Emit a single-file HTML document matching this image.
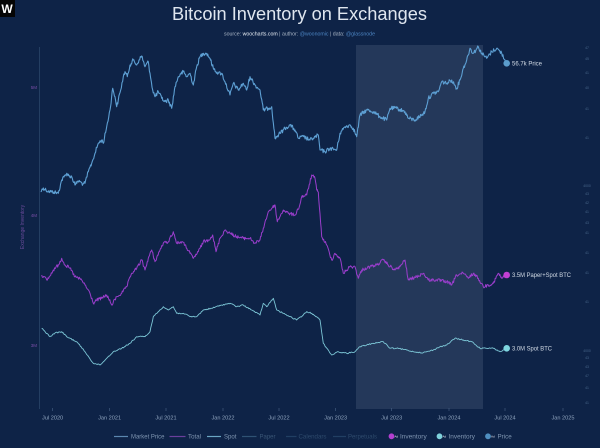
<!DOCTYPE html>
<html><head><meta charset="utf-8"><style>
html,body{margin:0;padding:0;background:#0e2347;}
svg{display:block;font-family:"Liberation Sans",sans-serif;}
</style></head><body>
<svg width="600" height="448" viewBox="0 0 600 448" xmlns="http://www.w3.org/2000/svg">
<rect x="0" y="0" width="600" height="448" fill="#0e2347"/>
<!-- logo -->
<rect x="0" y="0" width="15" height="17" fill="#050505"/>
<text x="7" y="13" font-size="12" fill="#ffffff" text-anchor="middle" font-weight="bold">W</text>
<!-- title -->
<text x="172" y="20" font-size="18.5" fill="#dfe6ef" textLength="255" lengthAdjust="spacingAndGlyphs">Bitcoin Inventory on Exchanges</text>
<text x="224" y="35.5" font-size="5.4" textLength="151" lengthAdjust="spacingAndGlyphs"><tspan fill="#aab6c6">source: </tspan><tspan fill="#e8eef5">woocharts.com</tspan><tspan fill="#aab6c6"> | author: </tspan><tspan fill="#4d86c4">@woonomic</tspan><tspan fill="#aab6c6"> | data: </tspan><tspan fill="#4d86c4">@glassnode</tspan></text>
<!-- shaded region -->
<rect x="356" y="45" width="127" height="364" fill="#24385a"/>
<!-- left axis -->
<line x1="39.4" y1="47" x2="39.4" y2="409" stroke="#2b4569" stroke-width="0.8"/>
<g font-size="4.5" fill="#7a4ea8" text-anchor="end">
<text x="37" y="89">5M</text>
<text x="37" y="217">4M</text>
<text x="37" y="347">3M</text>
</g>
<text transform="translate(24,227) rotate(-90)" font-size="5" fill="#6a4a9a" text-anchor="middle">Exchange Inventory</text>
<!-- right axis ticks -->
<g font-size="3.4" fill="#48668a" text-anchor="middle">
<text x="587" y="49">47</text><text x="587" y="60">45</text><text x="587" y="74">41</text><text x="587" y="89">40</text><text x="587" y="110">41</text><text x="587" y="139">41</text><text x="587" y="187">4000</text><text x="587" y="195">43</text><text x="587" y="204">42</text><text x="587" y="213">41</text><text x="587" y="224">43</text><text x="587" y="234">41</text><text x="587" y="254">41</text><text x="587" y="274">41</text><text x="587" y="303">41</text><text x="587" y="352">4000</text><text x="587" y="359">43</text><text x="587" y="368">43</text><text x="587" y="377">47</text><text x="587" y="389">41</text><text x="587" y="404">41</text>
</g>
<!-- x axis ticks & labels -->
<g stroke="#4a6588" stroke-width="0.6">
<line x1="52.6" y1="408" x2="52.6" y2="411"/><line x1="109.6" y1="408" x2="109.6" y2="411"/><line x1="166" y1="408" x2="166" y2="411"/><line x1="223" y1="408" x2="223" y2="411"/><line x1="279" y1="408" x2="279" y2="411"/><line x1="335.6" y1="408" x2="335.6" y2="411"/><line x1="391.7" y1="408" x2="391.7" y2="411"/><line x1="449" y1="408" x2="449" y2="411"/><line x1="505" y1="408" x2="505" y2="411"/><line x1="563" y1="408" x2="563" y2="411"/>
</g>
<g font-size="5.6" fill="#8ea3bd" text-anchor="middle">
<text x="52.6" y="419.5">Jul 2020</text><text x="109.6" y="419.5">Jan 2021</text><text x="166" y="419.5">Jul 2021</text><text x="223" y="419.5">Jan 2022</text><text x="279" y="419.5">Jul 2022</text><text x="335.6" y="419.5">Jan 2023</text><text x="391.7" y="419.5">Jul 2023</text><text x="449" y="419.5">Jan 2024</text><text x="505" y="419.5">Jul 2024</text><text x="563" y="419.5">Jan 2025</text>
</g>
<!-- series -->
<polyline id="price" fill="none" stroke="#5d9fd3" stroke-width="1.1" stroke-linejoin="round" points="40.7,191.7 43.3,188 46,190 50,191.7 54,192 58.3,193.3 61.7,180 64,177 66.7,173.3 69,176 71.7,176.7 75,185 78,181 80,181.7 83,184 85,183.3 88.3,171.7 91.7,163.3 95,153.3 98.3,143.3 101.7,140 103.3,143.3 106.7,126.7 110,110 112.7,88.3 115,96.7 116.7,106.7 118.3,100 120.7,90 123.3,76.7 125,71.7 127.3,76.7 130,65 133.3,60 136.7,65 139,60 141.7,56 145,66.7 148.3,61.7 150,73.3 152.7,90 155,96.7 158.3,91.7 161.7,98.3 165,101.7 168.3,100 171.7,108.3 175,86.7 178.3,76.7 181,74 183.3,71.7 186.7,76.7 190,73.3 193.3,85 196.7,66.7 200,56.7 203.3,53.3 206.7,53.3 210,58.3 213.3,68.3 218.3,73.3 221.7,73.3 225,81.7 230,95 233.3,83.3 238.3,90 243.3,83.3 246.7,90 250,76.7 255,85 260,90 263.3,110 268.3,108.3 271.7,106.7 275,138.3 280,133.3 285,128.3 290,125 295,130 298.3,138.3 303.3,136.7 310,140 313.3,138.3 318.3,135 320,150 325,151.7 330,148.3 336.7,150 340,133.3 345,126.7 350,125 353.3,128.3 356.7,136.7 360,115 366.7,110 373.3,111.7 380,116.7 386.7,120 390,108.3 396.7,108.3 405,111.7 408.3,118.3 415,120 421.7,115 425,111.7 428.3,98.3 433.3,93.3 438.3,91.7 441.7,81.7 446.7,83.3 451.7,80 456.7,88.3 460,80 463.3,68.3 466.7,60 470,48.3 473.3,53.3 478.3,46.7 481.7,53.3 486.7,58.3 491.7,51.7 496.7,48.3 501.7,53.3 506.7,63.3"/>
<polyline id="total" fill="none" stroke="#9a3ecc" stroke-width="1" stroke-linejoin="round" points="41.7,275 46.7,280 50,276 53.3,270 58.3,265 61.7,258.3 65,265 70,268.3 75,276.7 81.7,280 85,285 90,293.3 93.3,303.3 96.7,300 101.7,298.3 106.7,295 111.7,305 116.7,296.7 121.7,293.3 126.7,286.7 131.7,273.3 136.7,268.3 141.7,260 145,270 148.3,258.3 151.7,250 155,261.7 160,250 163.3,243.3 168.3,241.7 173.3,231.7 176.7,243.3 181.7,241.7 185,245 190,253.3 193.3,258.3 198.3,251.7 203.3,241.7 208.3,240 212.7,235 216,251.7 220,238.3 225,230 230,233.3 236.7,236.7 243.3,238.3 250,238.3 255,243.3 260,240 263.3,228.3 268.3,211.7 275,205 277.3,221.7 283.3,210 288.3,213.3 295,215 299.3,206.7 301.7,196.7 306.7,195 311.7,175 315,178.3 316.7,190 318.3,192 321.7,236.7 326.7,245 331.7,260 335,253.3 340,258.3 343.3,273.3 350,266.7 355,266.7 358.3,278.3 361.7,270 370,266.7 376.7,265 383.3,260 388.3,265 395,270 400,266.7 405,260 408.3,280 416.7,276.7 423.3,273.3 428.3,280 436.7,280 446.7,281.7 451.7,285 456.7,275 463.3,273.3 468.3,278.3 473.3,273.3 478.3,278.3 483.3,286.7 488.3,285 493.3,283.3 498.3,273.3 501.7,278.3 506.7,275"/>
<polyline id="spot" fill="none" stroke="#7cc6d6" stroke-width="0.9" stroke-linejoin="round" points="41.7,328.3 50,336.7 55,333 61.7,331.7 66.7,336.7 76.7,341.7 85,351.7 93.3,363.3 100,365 106.7,358.3 113.3,351.7 121.7,348.3 130,343.3 136.7,336.7 145,336.7 150,331.7 153.3,316.7 158.3,311.7 163.3,306.7 168.3,310 173.3,306.7 176.7,313.3 183.3,313.3 190,316.7 196.7,316.7 203.3,310 211.7,308.3 221.7,305 230,303.3 236.7,306.7 243.3,305 251.7,310 260,315 263.3,303.3 266.7,306.7 273.3,298.3 276.7,310 283.3,313.3 290,316.7 296.7,320 303.3,315 306.7,311.7 311.7,313.3 316.7,316.7 320,320 323.3,343.3 331.7,355 338.3,351.7 346.7,353.3 355,351.7 360,346.7 366.7,345 373.3,343.3 383.3,341.7 390,348.3 396.7,348.3 406.7,350 413.3,351.7 423.3,352.7 433.3,350 440,346.7 446.7,345 455,338.3 463.3,340 471.7,341.7 480,348.3 486.7,348.3 493.3,348.3 500,351.7 506.7,348.3"/>
<!-- end dots & labels -->
<circle cx="506.7" cy="63.3" r="3.3" fill="#5a9ccc"/>
<circle cx="506.7" cy="275" r="3.3" fill="#c23fd4"/>
<circle cx="506.7" cy="348.3" r="3.3" fill="#7fd6e0"/>
<g font-size="6" fill="#d2dbe6">
<text x="512" y="65.3" textLength="30" lengthAdjust="spacingAndGlyphs">56.7k Price</text>
<text x="512" y="277" textLength="59" lengthAdjust="spacingAndGlyphs">3.5M Paper+Spot BTC</text>
<text x="512" y="350.3" textLength="40" lengthAdjust="spacingAndGlyphs">3.0M Spot BTC</text>
</g>
<!-- legend -->
<g font-size="6" stroke-width="1.2">
<line x1="114" y1="436.5" x2="128" y2="436.5" stroke="#5b87b0"/>
<text x="131" y="438.6" fill="#7f95b1" textLength="33.5" lengthAdjust="spacingAndGlyphs">Market Price</text>
<line x1="169.5" y1="436.5" x2="185.5" y2="436.5" stroke="#6a3f9c"/>
<text x="188" y="438.6" fill="#7f95b1" textLength="13" lengthAdjust="spacingAndGlyphs">Total</text>
<line x1="207" y1="436.5" x2="221" y2="436.5" stroke="#6aa6c4"/>
<text x="224" y="438.6" fill="#7f95b1" textLength="12.5" lengthAdjust="spacingAndGlyphs">Spot</text>
<line x1="242" y1="436.5" x2="256.5" y2="436.5" stroke="#2f5274"/>
<text x="259.5" y="438.6" fill="#3a5676" textLength="16" lengthAdjust="spacingAndGlyphs">Paper</text>
<line x1="286" y1="436.5" x2="296.5" y2="436.5" stroke="#213f63"/>
<text x="298.5" y="438.6" fill="#2e4a6c" textLength="28" lengthAdjust="spacingAndGlyphs">Calendars</text>
<line x1="333" y1="436.5" x2="346" y2="436.5" stroke="#213f63"/>
<text x="348" y="438.6" fill="#2e4a6c" textLength="29" lengthAdjust="spacingAndGlyphs">Perpetuals</text>
<circle cx="391.5" cy="436.3" r="2.9" fill="#b23fd0" stroke="none"/>
<text x="394.5" y="437.6" font-size="3" fill="#e6e6f0">Ad</text>
<text x="400" y="438.6" fill="#7f95b1" textLength="26.7" lengthAdjust="spacingAndGlyphs">Inventory</text>
<circle cx="439.5" cy="436.3" r="2.9" fill="#7fd2dc" stroke="none"/>
<text x="442.5" y="437.6" font-size="3" fill="#e6e6f0">Ad</text>
<text x="448.5" y="438.6" fill="#7f95b1" textLength="26.5" lengthAdjust="spacingAndGlyphs">Inventory</text>
<circle cx="488" cy="436.3" r="2.9" fill="#4f8fc0" stroke="none"/>
<text x="491" y="437.6" font-size="3" fill="#e6e6f0">Ad</text>
<text x="497.5" y="438.6" fill="#7f95b1" textLength="14.2" lengthAdjust="spacingAndGlyphs">Price</text>
</g>
</svg>
<script>
(function(){
  var seed=12345;
  function rnd(){seed=(seed*1103515245+12345)%2147483648;return seed/2147483648;}
  function jitter(id,amp,step){
    var el=document.getElementById(id);if(!el)return;
    var pts=el.getAttribute('points').trim().split(/\s+/).map(function(p){var a=p.split(',');return [parseFloat(a[0]),parseFloat(a[1])];});
    var out=[];
    for(var i=0;i<pts.length-1;i++){
      var a=pts[i],b=pts[i+1];var n=Math.max(1,Math.round((b[0]-a[0])/step));
      for(var k=0;k<n;k++){var t=k/n;var x=a[0]+(b[0]-a[0])*t;var y=a[1]+(b[1]-a[1])*t;
        if(k>0)y+=(rnd()-0.5)*2*amp;out.push(x.toFixed(2)+','+y.toFixed(2));}
    }
    var l=pts[pts.length-1];out.push(l[0]+','+l[1]);
    el.setAttribute('points',out.join(' '));
  }
  jitter('price',2.0,0.6);
  jitter('total',1.6,0.6);
  jitter('spot',0.6,0.9);
})();
</script>
</body></html>
